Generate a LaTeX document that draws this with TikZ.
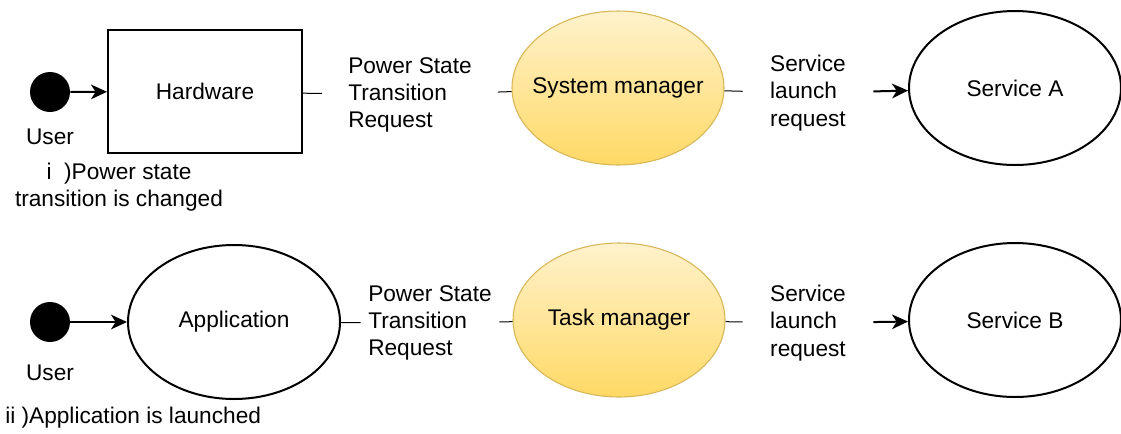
\documentclass[tikz,border=0pt]{standalone}
\usepackage{fontspec}
\setmainfont{Liberation Sans}
\usetikzlibrary{arrows.meta, positioning, shapes.geometric}
\definecolor{mgrtop}{HTML}{FFF2CC}
\definecolor{mgrbottom}{HTML}{FFD966}
\definecolor{mgrline}{HTML}{D6B656}
\tikzset{
  box/.style={rectangle,draw,line width=1.5pt,align=center,minimum width=145.5pt,minimum height=92.25pt},
  oval/.style={ellipse,draw,line width=1.5pt,align=center,inner sep=0pt,minimum width=159pt,minimum height=115.5pt},
  manager/.style={oval,draw=mgrline,line width=0.8pt,top color=mgrtop,bottom color=mgrbottom},
  userdot/.style={circle,fill=black,inner sep=0pt,minimum size=30pt},
  txt/.style={align=center,inner sep=0pt},
  request/.style={align=left,inner sep=0pt,minimum height=20pt},
  line/.style={-{Stealth[length=12pt,width=11pt,inset=3.5pt]},line width=1.5pt},
  stub/.style={line width=0.75pt}
}

\begin{document}
\begin{tikzpicture}[x=0.75pt,y=-0.75pt,font=\fontsize{17pt}{20.5pt}\selectfont]
\useasboundingbox (0,0) rectangle (1121,433);
\node[userdot] (user1) at (50,92) {};
\node[txt] (who1) at (50,137) {User};
\node[txt] (cap1) at (119,187) {i\ \ )Power state\\transition is changed};
\node[box] (hw) at (205,91.5) {Hardware};
\node[request, minimum width=131.25pt] (req1) at (410,95) {Power State\\Transition\\Request};
\node[manager, label=center:System manager] (sysmgr) at (618,88) {};
\node[request, minimum width=97.5pt] (launch1) at (808,93) {Service\\launch\\request};
\node[oval] (svca) at (1015,88) {Service A};
\draw[line] (user1) -- (hw);
\draw[stub] (hw) -- (req1);
\draw[stub] (req1) -- (sysmgr);
\draw[stub] (sysmgr) -- (launch1);
\draw[line] (launch1) -- (svca);

\node[userdot] (user2) at (50,322) {};
\node[txt] (who2) at (50,373) {User};
\node[txt, anchor=west] (cap2) at (5,418) {ii )Application is launched};
\node[oval] (app) at (234,322) {Application};
\node[request, minimum width=103.5pt] (req2) at (430,323) {Power State\\Transition\\Request};
\node[manager, label=center:Task manager] (taskmgr) at (619,320) {};
\node[request, minimum width=97.5pt] (launch2) at (808,323) {Service\\launch\\request};
\node[oval] (svcb) at (1015,320) {Service B};
\draw[line] (user2) -- (app);
\draw[stub] (app) -- (req2);
\draw[stub] (req2) -- (taskmgr);
\draw[stub] (taskmgr) -- (launch2);
\draw[line] (launch2) -- (svcb);
\end{tikzpicture}
\end{document}
